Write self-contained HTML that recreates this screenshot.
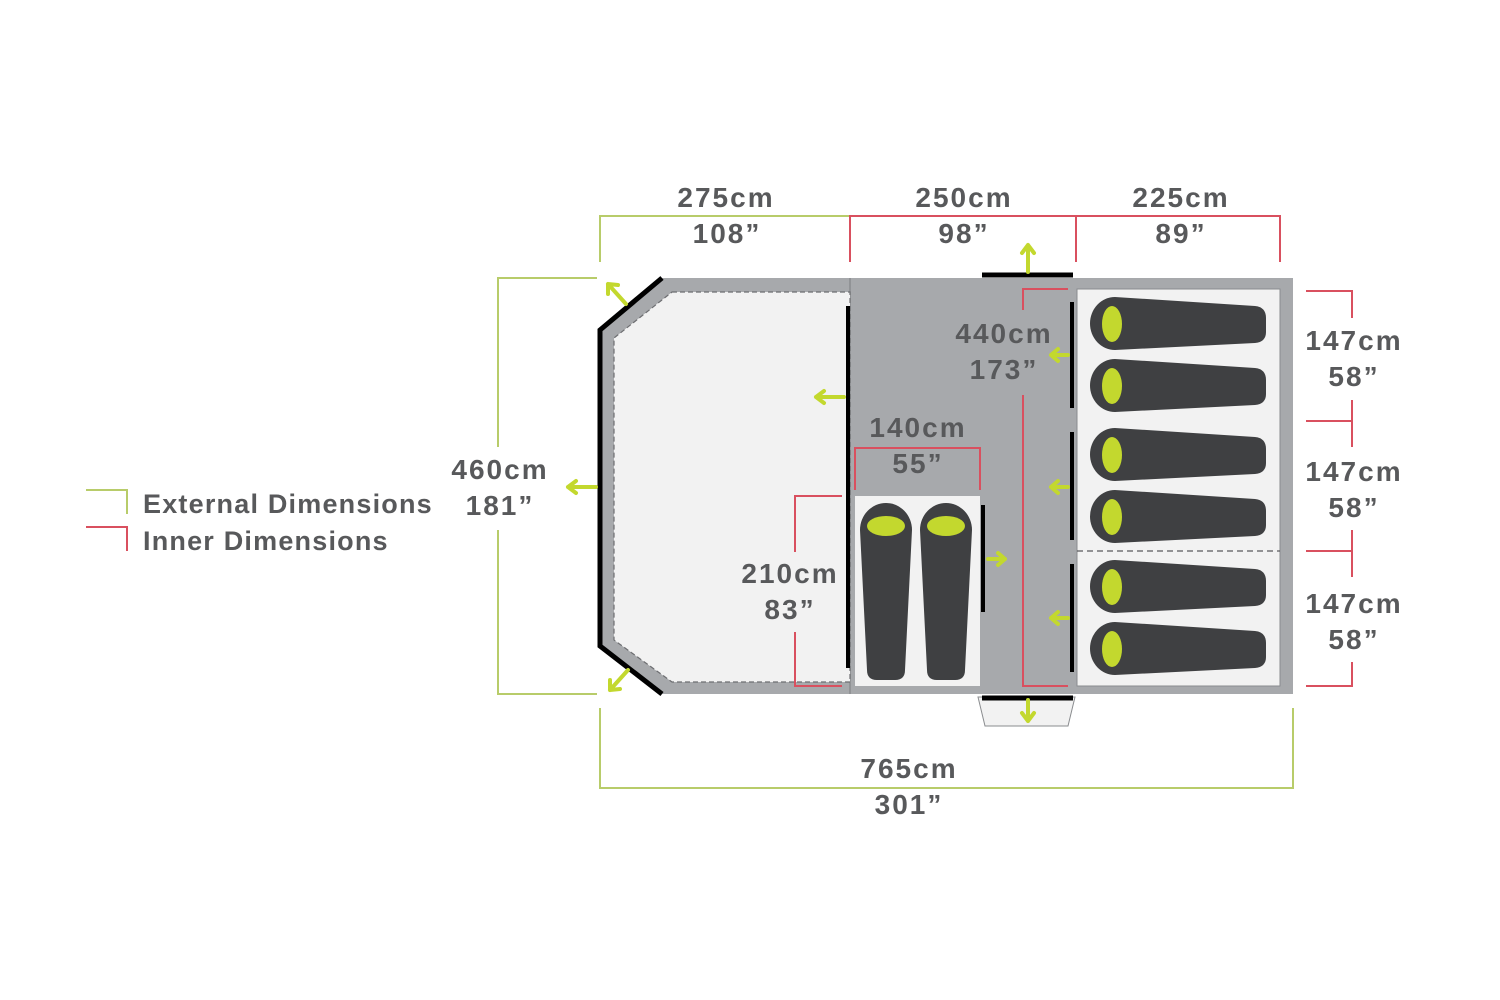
<!DOCTYPE html>
<html><head><style>body{margin:0;background:#fff}svg{display:block}text{font-family:"Liberation Sans",sans-serif;font-weight:bold;fill:#58595b;font-size:28px;text-anchor:middle;letter-spacing:2px}</style></head>
<body>
<svg width="1500" height="1000" viewBox="0 0 1500 1000" xmlns="http://www.w3.org/2000/svg">
<defs>
<g id="bagH"><path d="M1115,-27 L1255,-18 Q1266,-17 1266,-6 L1266,8 Q1266,18 1255,19 L1115,26 A25,26.5 0 0 1 1115,-27 Z" fill="#3f4042"/><ellipse cx="1112" cy="0" rx="10" ry="18" fill="#c3d82e"/></g>
<g id="bagV"><path d="M-26,530 A26,27 0 0 1 26,530 L19,670 Q19,680 9,680 L-9,680 Q-19,680 -19,670 Z" fill="#3f4042"/><ellipse cx="0" cy="526" rx="19" ry="10" fill="#c3d82e"/></g>
</defs>
<polygon points="662,278 850,278 850,694 662,694 600,646 600,330" fill="#a7a9ac"/>
<rect x="850" y="278" width="443" height="416" fill="#a7a9ac"/>
<line x1="850" y1="278" x2="850" y2="694" stroke="#8a8c8f" stroke-width="1.5"/>
<polygon points="672,292 850,292 850,682 672,682 614,640 614,338" fill="#f2f2f2" stroke="#6d6e71" stroke-width="1.2" stroke-dasharray="5,3"/>
<rect x="1077" y="289" width="203" height="397" fill="#f2f2f2" stroke="#8a8c8f"/>
<line x1="1077" y1="551" x2="1280" y2="551" stroke="#58595b" stroke-width="1.2" stroke-dasharray="6,4"/>
<rect x="855" y="496" width="125" height="190" fill="#f2f2f2"/>
<polyline points="662,278 600,330 600,646 662,694" fill="none" stroke="#000" stroke-width="5"/>
<line x1="848" y1="306" x2="848" y2="668" stroke="#000" stroke-width="4"/>
<line x1="983" y1="505" x2="983" y2="612" stroke="#000" stroke-width="4"/>
<line x1="1072" y1="302" x2="1072" y2="408" stroke="#000" stroke-width="4"/>
<line x1="1072" y1="432" x2="1072" y2="540" stroke="#000" stroke-width="4"/>
<line x1="1072" y1="564" x2="1072" y2="672" stroke="#000" stroke-width="4"/>
<line x1="982" y1="275" x2="1073" y2="275" stroke="#000" stroke-width="5"/>
<polygon points="978,697 1075,697 1068,726 985,726" fill="#f2f2f2" stroke="#8a8c8f"/>
<line x1="982" y1="698" x2="1073" y2="698" stroke="#000" stroke-width="5"/>
<use href="#bagH" y="324"/><use href="#bagH" y="386"/><use href="#bagH" y="455"/><use href="#bagH" y="517"/><use href="#bagH" y="587"/><use href="#bagH" y="649"/>
<use href="#bagV" x="886"/><use href="#bagV" x="946"/>
<g stroke="#c3d82e" stroke-width="4" fill="none" stroke-linecap="round">
<path d="M626,304 L608,284 M608,284 L608,294 M608,284 L618,285"/>
<path d="M628,670 L610,690 M610,690 L610,680 M610,690 L620,689"/>
<path d="M596,487 L568,487 M568,487 L576,481 M568,487 L576,493"/>
<path d="M844,397 L816,397 M816,397 L824,391 M816,397 L824,403"/>
<path d="M1028,272 L1028,245 M1028,245 L1022,253 M1028,245 L1034,253"/>
<path d="M1028,700 L1028,721 M1028,721 L1022,713 M1028,721 L1034,713"/>
<path d="M988,559 L1005,559 M1005,559 L998,553 M1005,559 L998,565"/>
<path d="M1068,355 L1051,355 M1051,355 L1058,349 M1051,355 L1058,361"/>
<path d="M1068,487 L1051,487 M1051,487 L1058,481 M1051,487 L1058,493"/>
<path d="M1068,618 L1051,618 M1051,618 L1058,612 M1051,618 L1058,624"/>
</g>
<g fill="none" stroke="#b8cc6a" stroke-width="2">
<polyline points="600,262 600,216 850,216"/>
<polyline points="597,278 498,278 498,447"/>
<polyline points="498,530 498,694 597,694"/>
<polyline points="600,708 600,788 1293,788 1293,708"/>
<polyline points="86,490 127,490 127,514"/>
</g>
<g fill="none" stroke="#d9505f" stroke-width="2">
<polyline points="850,262 850,216 1280,216 1280,262"/>
<line x1="1076" y1="216" x2="1076" y2="262"/>
<polyline points="1068,289 1023,289 1023,310"/>
<polyline points="1023,395 1023,686 1068,686"/>
<polyline points="855,490 855,448 980,448 980,490"/>
<polyline points="842,496 795,496 795,552"/>
<polyline points="795,632 795,686 842,686"/>
<polyline points="1306,291 1352,291 1352,318"/>
<polyline points="1352,400 1352,447"/>
<line x1="1306" y1="421" x2="1352" y2="421"/>
<polyline points="1352,530 1352,577"/>
<line x1="1306" y1="551" x2="1352" y2="551"/>
<polyline points="1352,662 1352,686 1306,686"/>
<polyline points="86,527 127,527 127,551"/>
</g>
<text x="726" y="207">275cm</text><text x="727" y="243">108”</text>
<text x="964" y="207">250cm</text><text x="964" y="243">98”</text>
<text x="1181" y="207">225cm</text><text x="1181" y="243">89”</text>
<text x="500" y="479">460cm</text><text x="500" y="515">181”</text>
<text x="1004" y="343">440cm</text><text x="1004" y="379">173”</text>
<text x="918" y="437">140cm</text><text x="918" y="473">55”</text>
<text x="790" y="583">210cm</text><text x="790" y="619">83”</text>
<text x="1354" y="350">147cm</text><text x="1354" y="386">58”</text>
<text x="1354" y="481">147cm</text><text x="1354" y="517">58”</text>
<text x="1354" y="613">147cm</text><text x="1354" y="649">58”</text>
<text x="909" y="778">765cm</text><text x="909" y="814">301”</text>
<text x="143" y="513" style="text-anchor:start;font-size:27px;letter-spacing:1.2px">External Dimensions</text>
<text x="143" y="550" style="text-anchor:start;font-size:27px;letter-spacing:1.2px">Inner Dimensions</text>
</svg>
</body></html>
